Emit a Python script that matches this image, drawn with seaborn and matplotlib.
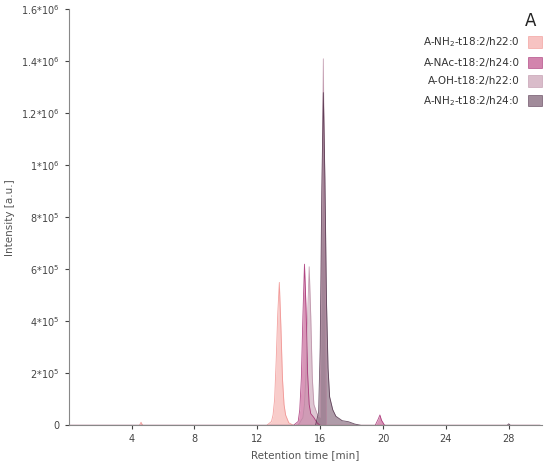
import numpy as np
import pandas as pd
import matplotlib
matplotlib.use("Agg")
import matplotlib.pyplot as plt
import seaborn as sns

# chromatogram points (time [min], intensity [a.u.])
t_nh2_22 = [0, 4.5, 4.6, 4.7, 4.8, 12.6, 12.9, 13.0, 13.1, 13.2, 13.3, 13.4, 13.5, 13.6, 13.7, 13.8, 14.0, 14.3, 30]
i_nh2_22 = [0, 0, 12000, 0, 0, 0, 15000, 40000, 100000, 250000, 430000, 550000, 380000, 180000, 80000, 40000, 10000, 0, 0]

t_nac_24 = [0, 14.3, 14.6, 14.7, 14.8, 14.9, 15.0, 15.1, 15.2, 15.3, 15.4, 15.6, 15.8, 16.0, 19.5, 19.7, 19.8, 19.9, 20.1, 30]
i_nac_24 = [0, 0, 15000, 60000, 180000, 420000, 620000, 450000, 200000, 80000, 45000, 30000, 10000, 0, 0, 25000, 40000, 20000, 0, 0]

t_oh_22 = [0, 14.6, 14.9, 15.0, 15.1, 15.2, 15.3, 15.4, 15.5, 15.6, 15.8, 16.0, 16.2, 16.4, 30]
i_oh_22 = [0, 0, 30000, 80000, 200000, 420000, 610000, 420000, 180000, 80000, 45000, 30000, 1410000, 0, 0]

t_nh2_24 = [0, 15.7, 15.9, 16.0, 16.1, 16.2, 16.3, 16.4, 16.5, 16.6, 16.8, 17.0, 17.4, 17.8, 18.2, 18.6, 27.9, 28.0, 28.1, 30]
i_nh2_24 = [0, 0, 50000, 300000, 900000, 1280000, 950000, 480000, 220000, 110000, 60000, 35000, 18000, 14000, 5000, 0, 0, 6000, 0, 0]

labels = ["A-NH$_2$-t18:2/h22:0", "A-NAc-t18:2/h24:0",
          "A-OH-t18:2/h22:0", "A-NH$_2$-t18:2/h24:0"]
colors = ["#f4aaa8", "#c0508a", "#c9a0b4", "#7a5a70"]
edges = ["#f08a88", "#a0206a", "#b88aa2", "#4a2a44"]
series = [(t_nh2_22, i_nh2_22), (t_nac_24, i_nac_24), (t_oh_22, i_oh_22), (t_nh2_24, i_nh2_24)]

sns.set_style("white")
plt.rcParams['font.family'] = ['Verdana', 'DejaVu Sans']

fig, ax = plt.subplots(figsize=(5.5, 4.7), dpi=100)
handles = []
for (t, i), lab, c, e in zip(series, labels, colors, edges):
    df = pd.DataFrame({'t': t, 'i': i})
    ax.fill_between(df['t'], df['i'], color=c, alpha=0.6, linewidth=0)
    sns.lineplot(data=df, x='t', y='i', ax=ax, color=e, linewidth=0.6, alpha=0.8)
    handles.append(plt.Rectangle((0, 0), 1, 1, facecolor=c, edgecolor=e, alpha=0.7, linewidth=0.5))

ax.set_xlim(0, 30.1)
ax.set_ylim(0, 1.6e6)
ax.set_xticks([4, 8, 12, 16, 20, 24, 28])
yt = [0, 2e5, 4e5, 6e5, 8e5, 1e6, 1.2e6, 1.4e6, 1.6e6]
ax.set_yticks(yt)
ax.set_yticklabels(["0", "2*10$^5$", "4*10$^5$", "6*10$^5$", "8*10$^5$",
                    "1*10$^6$", "1.2*10$^6$", "1.4*10$^6$", "1.6*10$^6$"])
ax.tick_params(labelsize=7, colors="#444444", length=3, direction="out")
ax.tick_params(axis='x', bottom=True)
ax.tick_params(axis='y', left=True)
for s in ['top', 'right']:
    ax.spines[s].set_visible(False)
for s in ['left', 'bottom']:
    ax.spines[s].set_color("#888888")
    ax.spines[s].set_linewidth(0.8)
ax.set_xlabel("Retention time [min]", fontsize=7.5, color="#555555")
ax.set_ylabel("Intensity [a.u.]", fontsize=7.5, color="#555555")

leg = ax.legend(handles, labels, loc='upper right', bbox_to_anchor=(1.02, 0.96),
                frameon=False, fontsize=7.5, markerfirst=False, handlelength=1.3,
                handleheight=1.3, labelspacing=0.7)
for txt in leg.get_texts():
    txt.set_color("#333333")
fig.text(0.975, 0.955, "A", fontsize=12, ha='right', va='center', color="#222222")

plt.subplots_adjust(left=0.125, right=0.985, bottom=0.095, top=0.98)
fig.savefig("out.png", dpi=100)
